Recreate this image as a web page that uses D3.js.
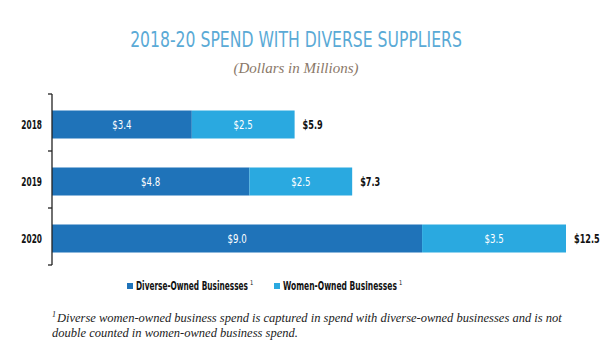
<!DOCTYPE html>
<html><head><meta charset="utf-8">
<script src="https://cdn.jsdelivr.net/npm/d3@7/dist/d3.min.js"></script>
<style>
body{margin:0;background:#fff;}
svg{display:block;}
.cond{font-family:"DejaVu Sans",sans-serif;}
.serif{font-family:"Liberation Serif","DejaVu Serif",serif;font-style:italic;}
</style></head>
<body>
<svg id="chart" width="611" height="356"></svg>
<script>
const years = ["2018", "2019", "2020"];
const diverseOwned = [3.4, 4.8, 9.0];
const womenOwned = [2.5, 2.5, 3.5];
const totals = [5.9, 7.3, 12.5];
const seriesNames = ["Diverse-Owned Businesses", "Women-Owned Businesses"];
const colors = ["#1f73b9", "#2aa9e0"];

const svg = d3.select("#chart");
const x = d3.scaleLinear().domain([0, 12.5]).range([52, 566]);
const y = d3.scaleBand().domain(years).range([94, 265]).paddingInner(0).paddingOuter(0);
const barH = 28;

// condensed text: drawn at (px,py) and squeezed horizontally by factor f, or to a target width
function condText(parent, px, py, str, opts){
  const t = parent.append("text").attr("class","cond")
    .attr("x",0).attr("y",0)
    .attr("text-anchor",opts.anchor||"start")
    .attr("font-size",opts.size).attr("fill",opts.fill)
    .attr("font-weight",opts.weight||"normal").text(str);
  let f = opts.f;
  if (opts.target != null) f = opts.target / t.node().getComputedTextLength();
  t.attr("transform",`translate(${px},${py}) scale(${f},1)`);
  return t;
}

// title
condText(svg, 296, 47, "2018-20 SPEND WITH DIVERSE SUPPLIERS", {anchor:"middle", size:21, fill:"#5aaad6", target:332});
svg.append("text").attr("class","serif").attr("x",296).attr("y",73)
  .attr("text-anchor","middle").attr("fill","#8a7868").attr("font-size",15)
  .text("(Dollars in Millions)");

// stacked data
const rows = years.map((yr,i)=>({year:yr, vals:[diverseOwned[i], womenOwned[i]], total: totals[i]}));
const g = svg.append("g");
rows.forEach(r=>{
  let acc = 0;
  const yc = y(r.year) + y.bandwidth()/2 + 2;
  r.vals.forEach((v,j)=>{
    const x0 = x(acc), x1 = x(acc+v);
    g.append("rect").attr("x",x0).attr("y",yc-barH/2).attr("width",x1-x0).attr("height",barH).attr("fill",colors[j]);
    condText(g, (x0+x1)/2, yc+4.5, "$"+v.toFixed(1), {anchor:"middle", size:12, fill:"#fff", f:0.72});
    acc += v;
  });
  condText(g, x(acc)+8, yc+4.5, "$"+r.total.toFixed(1), {size:12, fill:"#111", weight:"bold", f:0.68});
});

// axis
const axis = svg.append("g").attr("transform","translate(52,0)");
axis.append("line").attr("x1",0).attr("x2",0).attr("y1",y.range()[0]).attr("y2",y.range()[1]).attr("stroke","#222").attr("stroke-width",1.3);
const tickPos = years.map(d=>y(d)).concat([y.range()[1]]);
axis.selectAll("line.tk").data(tickPos).join("line").attr("class","tk")
  .attr("x1",-4).attr("x2",0).attr("y1",d=>d).attr("y2",d=>d).attr("stroke","#222").attr("stroke-width",1.3);
years.forEach(d=>{
  condText(axis, -10, y(d)+y.bandwidth()/2+6, d, {anchor:"end", size:12, fill:"#111", weight:"bold", f:0.62});
});

// legend
const legX = [127, 274];
const legW = [112, 114];
seriesNames.forEach((n,i)=>{
  svg.append("rect").attr("x",legX[i]).attr("y",283).attr("width",6).attr("height",6).attr("fill",colors[i]);
  condText(svg, legX[i]+9, 290, n, {size:12, fill:"#111", weight:"bold", target:legW[i]});
  condText(svg, legX[i]+9+legW[i]+2, 285, "1", {size:6.5, fill:"#111", f:0.8});
});

// footnote
svg.append("text").attr("class","serif").attr("x",52).attr("y",317).attr("font-size",8).attr("fill","#222").text("1");
svg.append("text").attr("class","serif").attr("x",57).attr("y",322).attr("font-size",12.5).attr("fill","#222")
  .text("Diverse women-owned business spend is captured in spend with diverse-owned businesses and is not");
svg.append("text").attr("class","serif").attr("x",52).attr("y",337).attr("font-size",12.5).attr("fill","#222")
  .text("double counted in women-owned business spend.");
</script>
</body></html>
